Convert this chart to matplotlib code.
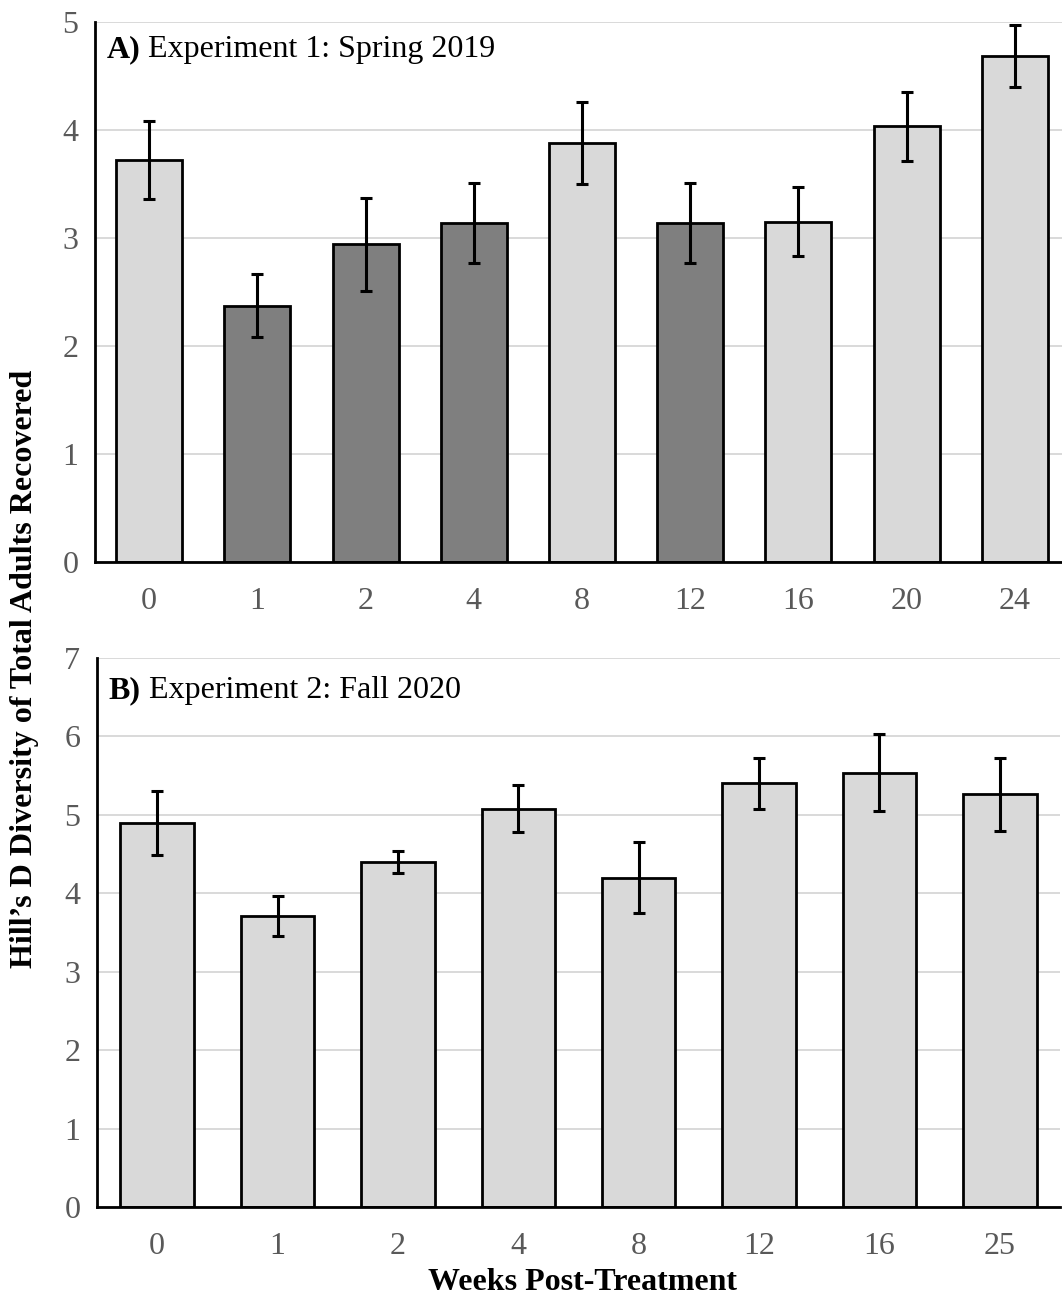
import matplotlib
matplotlib.use("Agg")
import matplotlib.pyplot as plt

# Experiment 1: Spring 2019
weeks_a = ["0", "1", "2", "4", "8", "12", "16", "20", "24"]
hill_a = [3.72, 2.37, 2.94, 3.14, 3.88, 3.14, 3.15, 4.03, 4.68]
err_a = [0.36, 0.29, 0.43, 0.37, 0.38, 0.37, 0.315, 0.32, 0.285]
dark_a = [False, True, True, True, False, True, False, False, False]

# Experiment 2: Fall 2020
weeks_b = ["0", "1", "2", "4", "8", "12", "16", "25"]
hill_b = [4.90, 3.71, 4.40, 5.08, 4.20, 5.40, 5.54, 5.26]
err_b = [0.41, 0.255, 0.14, 0.295, 0.45, 0.32, 0.485, 0.47]

light = "#d9d9d9"
dark = "#7f7f7f"
tick_col = "#595959"
fs = 23

plt.rcParams["font.family"] = ["Liberation Serif", "DejaVu Serif"]

fig = plt.figure(figsize=(10.62, 13), dpi=100)
ax_a = fig.add_axes([95 / 1062, 1 - 561.7 / 1300, 974 / 1062, 540 / 1300])
ax_b = fig.add_axes([97 / 1062, 1 - 1207 / 1300, 963 / 1062, 549 / 1300])


def draw(ax, labels, vals, errs, colors, ymax, title_bold, title_rest, ty):
    x = list(range(len(labels)))
    ax.bar(x, vals, width=0.61, color=colors, edgecolor="black", linewidth=2.0, zorder=2)
    ax.errorbar(x, vals, yerr=errs, fmt="none", ecolor="black", elinewidth=2.2,
                capsize=4.5, capthick=2.2, zorder=3)
    ax.set_xlim(-0.5, len(labels) - 0.5)
    ax.set_ylim(0, ymax)
    ax.set_yticks(range(ymax + 1))
    ax.set_xticks(x)
    ax.set_xticklabels(labels)
    ax.tick_params(axis="both", length=0, labelsize=fs, labelcolor=tick_col)
    ax.tick_params(axis="x", pad=18)
    ax.tick_params(axis="y", pad=12)
    ax.yaxis.grid(True, color="#d9d9d9", linewidth=1.4, zorder=0)
    ax.set_axisbelow(True)
    for s in ["top", "right"]:
        ax.spines[s].set_visible(False)
    for s in ["left", "bottom"]:
        ax.spines[s].set_linewidth(2.0)
        ax.spines[s].set_zorder(4)
    t = ax.text(0.012, ty, title_bold, transform=ax.transAxes, fontsize=fs,
                fontweight="bold", va="top", ha="left")
    ax.annotate(title_rest, xy=(1, 0), xycoords=t, fontsize=fs, va="bottom", ha="left")


draw(ax_a, weeks_a, hill_a, err_a, [dark if d else light for d in dark_a], 5,
     "A)", " Experiment 1: Spring 2019", 0.975)
draw(ax_b, weeks_b, hill_b, err_b, [light] * len(weeks_b), 7,
     "B)", " Experiment 2: Fall 2020", 0.967)

fig.text(25 / 1062, 1 - 669 / 1300, "Hill\u2019s D Diversity of Total Adults Recovered",
         rotation=90, fontsize=fs, fontweight="bold", ha="center", va="center")
fig.text(583 / 1062, 1 - 1282 / 1300, "Weeks Post-Treatment", fontsize=fs,
         fontweight="bold", ha="center", va="center")

fig.savefig("out.png", dpi=100)
